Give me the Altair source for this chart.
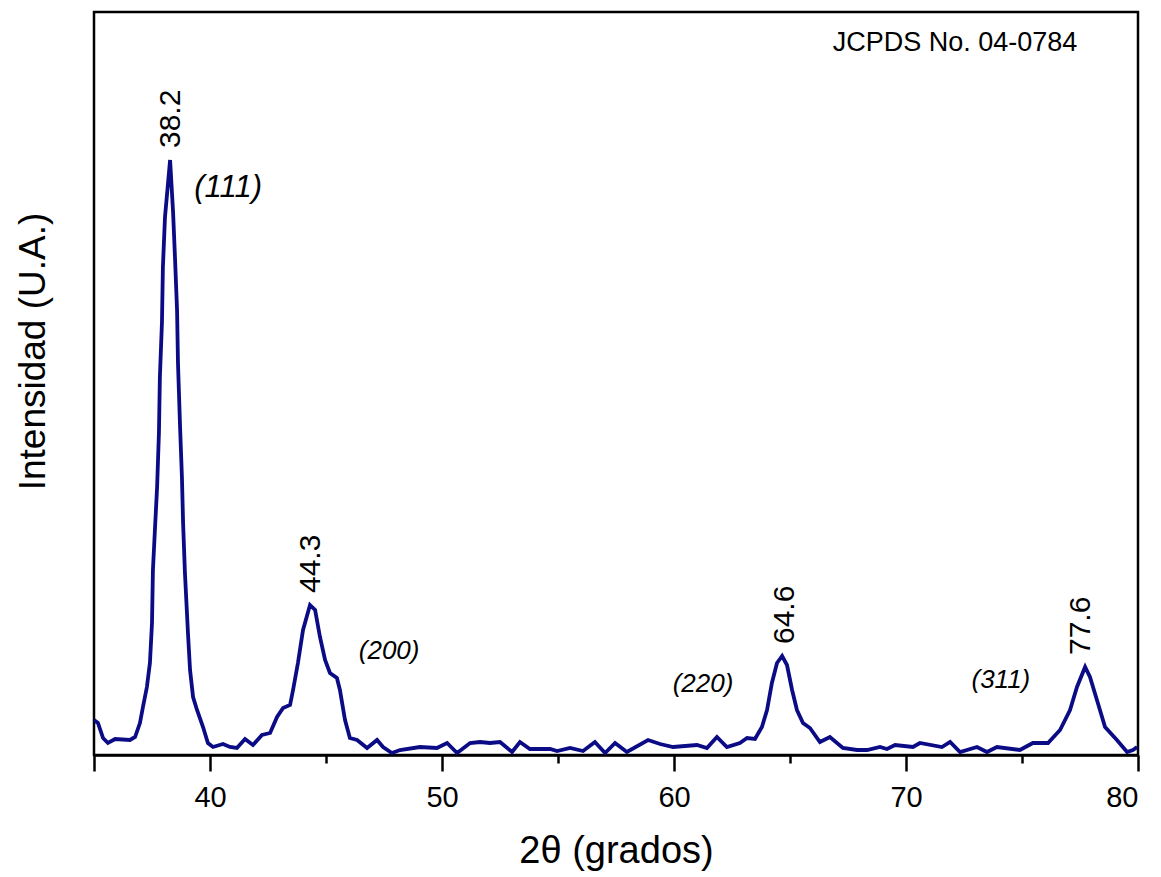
import altair as alt
import pandas as pd

# XRD pattern (2theta in degrees, intensity in arbitrary units)
two_theta = [35.00, 35.17, 35.39, 35.60, 35.91, 36.55, 36.77, 36.98, 37.11, 37.28, 37.41, 37.50,
             37.54, 37.63, 37.72, 37.80, 37.84, 37.93, 37.97, 38.06, 38.28, 38.41, 38.49, 38.58,
             38.62, 38.71, 38.79, 38.84, 38.92, 39.05, 39.14, 39.27, 39.44, 39.70, 39.91, 40.13,
             40.56, 40.86, 41.16, 41.51, 41.85, 42.24, 42.59, 42.89, 43.15, 43.45, 43.58, 43.79,
             44.01, 44.31, 44.53, 44.74, 44.96, 45.17, 45.47, 45.60, 45.82, 46.03, 46.34, 46.77,
             47.20, 47.46, 47.84, 48.19, 49.05, 49.78, 50.22, 50.65, 51.21, 51.64, 52.07, 52.50,
             53.02, 53.36, 53.79, 54.66, 54.96, 55.52, 56.08, 56.59, 57.03, 57.46, 57.97, 58.88,
             59.40, 59.96, 60.99, 61.42, 61.85, 62.28, 62.84, 63.15, 63.49, 63.79, 64.01, 64.22,
             64.44, 64.66, 64.87, 65.09, 65.30, 65.56, 65.86, 66.29, 66.72, 67.28, 67.89, 68.32,
             68.88, 69.18, 69.53, 70.30, 70.60, 71.55, 71.90, 72.33, 73.06, 73.49, 73.92, 74.91,
             75.47, 76.12, 76.64, 77.07, 77.37, 77.72, 77.93, 78.23, 78.58, 79.09, 79.53, 79.78,
             79.96]
intensity = [35, 32, 17, 12, 16, 15, 18, 32, 48, 68, 92, 132,
             185, 227, 268, 323, 378, 433, 488, 538, 595, 542, 498, 445,
             392, 328, 278, 232, 182, 122, 85, 58, 45, 28, 12, 8,
             11, 8, 7, 16, 10, 20, 22, 38, 47, 50, 65, 92,
             125, 150, 145, 118, 95, 82, 77, 65, 35, 17, 15, 7,
             15, 8, 2, 5, 8, 7, 12, 2, 12, 13, 12, 13,
             3, 13, 6, 6, 4, 7, 4, 13, 2, 12, 3, 15,
             11, 8, 10, 7, 18, 8, 12, 17, 16, 28, 45, 72,
             92, 99, 90, 65, 45, 32, 27, 13, 18, 7, 5, 5,
             8, 6, 10, 8, 12, 8, 13, 3, 8, 3, 8, 5,
             12, 12, 25, 45, 68, 88, 78, 55, 28, 15, 3, 5,
             8]

# Peak position labels
peak_labels = ["38.2", "44.3", "64.6", "77.6"]
peak_label_x = [38.32, 44.35, 64.80, 77.55]
peak_label_y = [595, 150, 99, 88]

# Miller index labels
hkl_labels = ["(111)", "(200)", "(220)", "(311)"]
hkl_x = [40.78, 47.72, 61.25, 74.09]
hkl_y = [567, 104, 71, 75]
hkl_size = [31, 26, 26, 26]

major_ticks = [35, 40, 50, 60, 70, 80]
minor_ticks = [45, 55, 65, 75]

FONT = "Liberation Sans"

xy = pd.DataFrame({"x": two_theta, "y": intensity})
peaks = pd.DataFrame({"x": peak_label_x, "y": peak_label_y, "t": peak_labels})
hkl = pd.DataFrame({"x": hkl_x, "y": hkl_y, "t": hkl_labels, "s": hkl_size})

xscale = alt.Scale(domain=[35, 80], nice=False, zero=False)
yscale = alt.Scale(domain=[0, 743], nice=False, zero=True)

line = alt.Chart(xy).mark_line(color="#0b0b86", strokeWidth=3.8, clip=True).encode(
    x=alt.X("x:Q", scale=xscale,
            axis=alt.Axis(values=major_ticks, orient="bottom", title="2θ (grados)",
                          labelExpr="datum.value == 35 ? '' : datum.label",
                          tickSize=16, tickWidth=2.5, tickColor="black",
                          domain=True, domainColor="black", domainWidth=2.5,
                          labelFont=FONT, labelFontSize=29, labelColor="black",
                          labelPadding=12, grid=False,
                          titleFont=FONT, titleFontSize=38, titleFontWeight="normal",
                          titleColor="black", titleY=107, titleBaseline="alphabetic")),
    y=alt.Y("y:Q", scale=yscale,
            axis=alt.Axis(title="Intensidad (U.A.)", labels=False, ticks=False,
                          domain=False, grid=False,
                          titleFont=FONT, titleFontSize=37, titleFontWeight="normal",
                          titleColor="black", titleAngle=270, titleX=-61, titleY=339,
                          titleAlign="center", titleBaseline="middle")),
)

peak_text = alt.Chart(peaks).mark_text(
    angle=270, align="left", baseline="middle", dx=12,
    font=FONT, fontSize=30, color="black"
).encode(
    x=alt.X("x:Q", scale=xscale, axis=None),
    y=alt.Y("y:Q", scale=yscale, axis=None),
    text="t:N",
)

hkl_text = alt.Chart(hkl).mark_text(
    align="center", baseline="middle", font=FONT, fontStyle="italic", color="black"
).encode(
    x=alt.X("x:Q", scale=xscale,
            axis=alt.Axis(values=minor_ticks, orient="bottom", labels=False, title=None,
                          tickSize=8, tickWidth=2.5, tickColor="black",
                          domain=False, grid=False)),
    y=alt.Y("y:Q", scale=yscale, axis=None),
    text="t:N",
    size=alt.Size("s:Q", scale=None, legend=None),
)

jcpds = alt.Chart(pd.DataFrame({"t": ["JCPDS No. 04-0784"]})).mark_text(
    align="center", baseline="middle", font=FONT, fontSize=27, color="black"
).encode(
    x=alt.value(861), y=alt.value(31), text="t:N"
)

chart = alt.layer(line, peak_text, hkl_text, jcpds).resolve_axis(
    x="independent", y="independent"
).properties(
    width=1044, height=743,
    background="white",
    autosize=alt.AutoSizeParams(type="none"),
    padding={"left": 86, "top": 4, "right": 11, "bottom": 118},
).configure_view(
    stroke="black", strokeWidth=2.5
)

chart.save("out.html", embed_options={"renderer": "svg", "actions": False})
